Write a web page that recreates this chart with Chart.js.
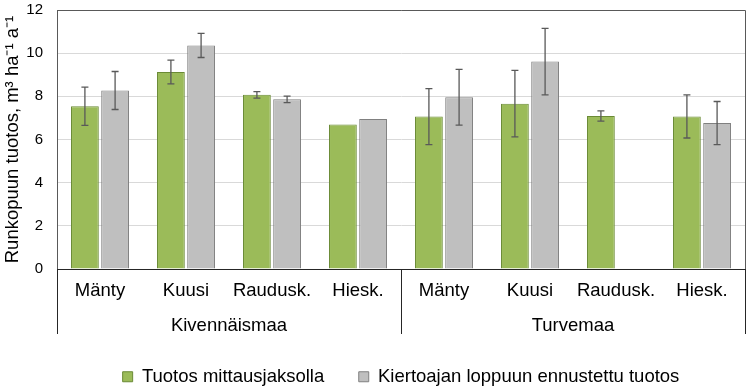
<!DOCTYPE html>
<html>
<head>
<meta charset="utf-8">
<script src="https://cdn.jsdelivr.net/npm/chart.js@4"></script>
<style>
  html, body { margin: 0; padding: 0; background: #fff; }
</style>
</head>
<body>
<canvas id="chart" width="750" height="389"></canvas>
<script>
// data
const species = ["Mänty", "Kuusi", "Raudusk.", "Hiesk.", "Mänty", "Kuusi", "Raudusk.", "Hiesk."];
const soils = ["Kivennäismaa", "Turvemaa"];
const seriesNames = ["Tuotos mittausjaksolla", "Kiertoajan loppuun ennustettu tuotos"];

const measured = [7.54, 9.13, 8.07, 6.69, 7.06, 7.66, 7.09, 7.07];
const measuredErr = [0.89, 0.55, 0.15, null, 1.3, 1.54, 0.24, 1.0];
const projected = [8.27, 10.36, 7.86, 6.95, 7.96, 9.61, null, 6.76];
const projectedErr = [0.88, 0.56, 0.15, null, 1.29, 1.54, null, 1.0];

const yTicks = [0, 2, 4, 6, 8, 10, 12];

const font = "'Liberation Sans', Arial, sans-serif";
const dark = "#595959";

// error bars drawn on top of the bars
const errorBars = {
  id: "errorBars",
  afterDatasetsDraw(chart) {
    const { ctx } = chart;
    const y = chart.scales.y;
    ctx.save();
    ctx.strokeStyle = "#595959";
    ctx.lineWidth = 1.3;
    chart.data.datasets.forEach((ds, i) => {
      const meta = chart.getDatasetMeta(i);
      ds.errors.forEach((e, j) => {
        const v = ds.data[j];
        if (e == null || v == null) return;
        const x = meta.data[j].x;
        const top = y.getPixelForValue(v + e);
        const bot = y.getPixelForValue(v - e);
        ctx.beginPath();
        ctx.moveTo(x, top);
        ctx.lineTo(x, bot);
        ctx.moveTo(x - 3.5, top);
        ctx.lineTo(x + 3.5, top);
        ctx.moveTo(x - 3.5, bot);
        ctx.lineTo(x + 3.5, bot);
        ctx.stroke();
      });
    });
    ctx.restore();
  },
};

// plot frame + separators between the soil groups
const frame = {
  id: "frame",
  afterDraw(chart) {
    const { ctx, chartArea: a } = chart;
    const x = chart.scales.x;
    const mid = (x.getPixelForValue(3) + x.getPixelForValue(4)) / 2;
    const lineEnd = 334;
    ctx.save();
    ctx.strokeStyle = dark;
    ctx.lineWidth = 1;
    ctx.beginPath();
    ctx.moveTo(a.left, a.top + 0.5);
    ctx.lineTo(a.right + 0.5, a.top + 0.5);
    ctx.lineTo(a.right + 0.5, a.bottom);
    ctx.stroke();
    ctx.strokeStyle = "#262626";
    ctx.beginPath();
    [a.left + 0.5, Math.round(mid) + 0.5, a.right + 0.5].forEach((px) => {
      ctx.moveTo(px, a.bottom);
      ctx.lineTo(px, lineEnd);
    });
    ctx.stroke();
    ctx.restore();
  },
};

new Chart(document.getElementById("chart"), {
  type: "bar",
  data: {
    labels: species,
    datasets: [
      {
        label: seriesNames[0],
        data: measured,
        errors: measuredErr,
        backgroundColor: "#9BBB59",
        borderColor: "#6A8A35",
        borderWidth: 1,
      },
      {
        label: seriesNames[1],
        data: projected,
        errors: projectedErr,
        backgroundColor: "#BFBFBF",
        borderColor: "#808080",
        borderWidth: 1,
      },
    ],
  },
  options: {
    responsive: false,
    animation: false,
    categoryPercentage: 0.702,
    barPercentage: 0.92,
    layout: { padding: { left: 0, right: 5, top: 10, bottom: -7 } },
    plugins: {
      tooltip: { enabled: false },
      legend: {
        position: "bottom",
        fullSize: false,
        labels: {
          font: { family: font, size: 18.5 },
          color: "#000",
          boxWidth: 10,
          boxHeight: 10,
          padding: 34.5,
        },
      },
    },
    scales: {
      x: {
        grid: { display: false, drawTicks: false },
        border: { color: "#262626" },
        ticks: { font: { family: font, size: 18.5 }, color: "#000", padding: 11, maxRotation: 0 },
        afterFit(scale) {
          scale.height = 40;
        },
      },
      x2: {
        type: "category",
        labels: soils,
        offset: true,
        position: "bottom",
        grid: { display: false, drawTicks: false },
        border: { display: false },
        ticks: { font: { family: font, size: 18.5 }, color: "#000", padding: 6 },
        afterFit(scale) {
          scale.height = 24;
        },
      },
      y: {
        min: 0,
        max: 12,
        afterBuildTicks(scale) {
          scale.ticks = yTicks.map((v) => ({ value: v }));
        },
        grid: { color: "#D9D9D9", drawTicks: true, tickLength: 14, tickColor: "rgba(0,0,0,0)" },
        border: { color: dark },
        ticks: { font: { family: font, size: 15 }, color: "#000", padding: 0 },
        title: {
          display: true,
          text: "Runkopuun tuotos, m³ ha⁻¹ a⁻¹",
          font: { family: font, size: 18.5 },
          color: "#000",
          padding: { top: 2, bottom: 0 },
        },
        afterFit(scale) {
          scale.width = 57;
        },
      },
    },
  },
  plugins: [errorBars, frame],
});
</script>
</body>
</html>
